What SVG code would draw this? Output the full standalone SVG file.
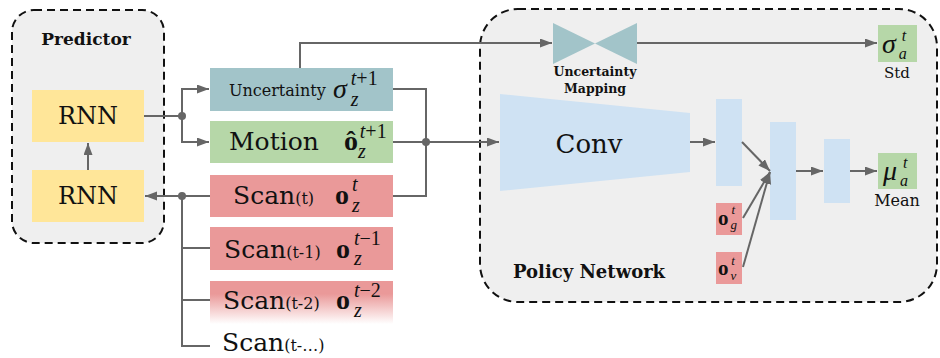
<svg xmlns="http://www.w3.org/2000/svg" width="940" height="358" viewBox="0 0 940 358">
<defs>
<marker id="ah" markerUnits="userSpaceOnUse" markerWidth="13" markerHeight="10" refX="12" refY="4.5" orient="auto">
<path d="M0,0 L12,4.5 L0,9 z" fill="#666"/>
</marker>
<linearGradient id="fade" x1="0" y1="0" x2="0" y2="1">
<stop offset="0" stop-color="#EA9999"/>
<stop offset="0.3" stop-color="#EA9999"/>
<stop offset="1" stop-color="#ffffff"/>
</linearGradient>
<style>
.grp{fill:#EFEFEF;stroke:#111;stroke-width:2;stroke-dasharray:8 5}
.rnn{fill:#FFE699}
.unc{fill:#A2C4C9}
.mot{fill:#B6D7A8}
.scan{fill:#EA9999}
.fc{fill:#CFE2F3}
.lbl{font-family:"DejaVu Serif",serif;fill:#111}
.bold{font-family:"DejaVu Serif",serif;font-weight:bold;fill:#111}
.m{font-family:"Liberation Serif",serif;font-style:italic;font-weight:normal;fill:#111}
.mb{font-family:"Liberation Serif",serif;font-weight:bold;fill:#111}
.mu{font-family:"Liberation Serif",serif;font-style:normal;font-weight:normal;fill:#111}
.ln{fill:none;stroke:#666;stroke-width:2}
.dot{fill:#666}
</style>
</defs>
<rect width="940" height="358" fill="#fff"/>

<g id="predictor">
<rect class="grp" x="12" y="10" width="152" height="233" rx="22"/>
<text class="bold" x="86" y="45" font-size="17" text-anchor="middle">Predictor</text>
</g>
<g id="policy-network">
<rect class="grp" x="480" y="9" width="457" height="293" rx="38"/>
<text class="bold" x="513" y="278" font-size="18">Policy Network</text>
</g>

<g id="rnn-top">
<rect class="rnn" x="32" y="90" width="112" height="52"/>
<text class="lbl" x="88" y="124" font-size="24" text-anchor="middle">RNN</text>
</g>
<g id="rnn-bottom">
<rect class="rnn" x="32" y="170" width="112" height="52"/>
<text class="lbl" x="88" y="204" font-size="24" text-anchor="middle">RNN</text>
</g>

<g id="uncertainty">
<rect class="unc" x="210" y="68" width="183" height="43"/>
<text class="lbl" x="229" y="96" font-size="16">Uncertainty</text>
<text class="m" x="333" y="98" font-size="28">σ<tspan font-size="20" dx="4" dy="8">z</tspan><tspan font-size="20" dx="-7.8" dy="-21">t</tspan><tspan class="mu" font-size="20">+1</tspan></text>
</g>
<g id="motion">
<rect class="mot" x="210" y="121" width="183" height="42"/>
<text class="lbl" x="229" y="150" font-size="25">Motion</text>
<text class="mb" x="344" y="150" font-size="28">ô<tspan class="m" font-size="20" dx="0" dy="8">z</tspan><tspan class="m" font-size="20" dx="-6" dy="-20">t</tspan><tspan class="mu" font-size="20">+1</tspan></text>
</g>
<g id="scan-t">
<rect class="scan" x="210" y="175" width="183" height="42"/>
<text class="lbl" x="233" y="204" font-size="25">Scan<tspan font-size="16">(t)</tspan></text>
<text class="mb" x="335" y="204" font-size="28">o<tspan class="m" font-size="20" dx="3" dy="8">z</tspan><tspan class="m" font-size="20" dx="-7.8" dy="-21">t</tspan></text>
</g>
<g id="scan-t1">
<rect class="scan" x="210" y="227" width="183" height="43"/>
<text class="lbl" x="224" y="258" font-size="25">Scan<tspan font-size="16">(t-1)</tspan></text>
<text class="mb" x="336" y="258" font-size="28">o<tspan class="m" font-size="20" dx="4" dy="7">z</tspan><tspan class="m" font-size="20" dx="-7.8" dy="-20">t</tspan><tspan class="mu" font-size="20">−1</tspan></text>
</g>
<g id="scan-t2">
<rect fill="url(#fade)" x="210" y="281" width="183" height="43"/>
<text class="lbl" x="223" y="309" font-size="25">Scan<tspan font-size="16">(t-2)</tspan></text>
<text class="mb" x="336" y="309" font-size="28">o<tspan class="m" font-size="20" dx="4" dy="8">z</tspan><tspan class="m" font-size="20" dx="-7.8" dy="-20">t</tspan><tspan class="mu" font-size="20">−2</tspan></text>
</g>
<g id="scan-tn">
<text class="lbl" x="222" y="351" font-size="25">Scan<tspan font-size="16">(t-…)</tspan></text>
</g>

<g id="uncertainty-mapping">
<polygon class="unc" points="553,23 553,64 595,43.5"/>
<polygon class="unc" points="637,23 637,64 595,43.5"/>
<text class="bold" x="595" y="76" font-size="12.5" text-anchor="middle">Uncertainty</text>
<text class="bold" x="595" y="93" font-size="12.5" text-anchor="middle">Mapping</text>
</g>
<g id="std">
<rect class="mot" x="878" y="25" width="39" height="37"/>
<text class="m" x="882" y="53" font-size="28">σ<tspan font-size="16" dx="3" dy="6">a</tspan><tspan font-size="16" dx="-5" dy="-18">t</tspan></text>
<text class="lbl" x="897" y="78" font-size="15" text-anchor="middle">Std</text>
</g>
<g id="conv">
<polygon class="fc" points="500,94 690,113 690,172 500,191"/>
<text class="lbl" x="589" y="153" font-size="26" text-anchor="middle">Conv</text>
</g>
<g id="fc1"><rect class="fc" x="716" y="99" width="26" height="87"/></g>
<g id="fc2"><rect class="fc" x="770" y="122" width="26" height="98"/></g>
<g id="fc3"><rect class="fc" x="824" y="139" width="26" height="64"/></g>
<g id="og">
<rect class="scan" x="716" y="203" width="26" height="32"/>
<text class="mb" x="718" y="225" font-size="21">o<tspan class="m" font-size="13" dx="2" dy="4">g</tspan><tspan class="m" font-size="13" dx="-5.5" dy="-15">t</tspan></text>
</g>
<g id="ov">
<rect class="scan" x="716" y="252" width="26" height="32"/>
<text class="mb" x="718" y="275" font-size="21">o<tspan class="m" font-size="13" dx="2" dy="5">v</tspan><tspan class="m" font-size="13" dx="-5" dy="-15">t</tspan></text>
</g>
<g id="mean">
<rect class="mot" x="878" y="153" width="39" height="36"/>
<text class="m" x="883" y="180" font-size="28">μ<tspan font-size="16" dx="3" dy="6">a</tspan><tspan font-size="16" dx="-5" dy="-18">t</tspan></text>
<text class="lbl" x="897" y="206" font-size="16" text-anchor="middle">Mean</text>
</g>

<g id="connectors">
<path class="ln" d="M88,170 V143" marker-end="url(#ah)"/>
<path class="ln" d="M144,116 H182"/>
<path class="ln" d="M182,116 V89 H209" marker-end="url(#ah)"/>
<path class="ln" d="M182,116 V142 H209" marker-end="url(#ah)"/>
<circle class="dot" cx="182" cy="116" r="4"/>
<path class="ln" d="M210,196 H145" marker-end="url(#ah)"/>
<circle class="dot" cx="182" cy="196" r="4"/>
<path class="ln" d="M182,196 V346 H210 M182,248 H210 M182,300 H210"/>
<path class="ln" d="M393,89 H426 V196 H393 M393,142 H426"/>
<path class="ln" d="M426,142 H499" marker-end="url(#ah)"/>
<circle class="dot" cx="426" cy="142" r="4"/>
<path class="ln" d="M300,68 V43 H552" marker-end="url(#ah)"/>
<path class="ln" d="M637,43 H877" marker-end="url(#ah)"/>
<path class="ln" d="M690,142 H715" marker-end="url(#ah)"/>
<path class="ln" d="M742,142 L770,171" marker-end="url(#ah)"/>
<path class="ln" d="M743,218 L770,172" marker-end="url(#ah)"/>
<path class="ln" d="M743,267 L770,172" marker-end="url(#ah)"/>
<path class="ln" d="M796,171 H823" marker-end="url(#ah)"/>
<path class="ln" d="M850,171 H877" marker-end="url(#ah)"/>
</g>
</svg>
